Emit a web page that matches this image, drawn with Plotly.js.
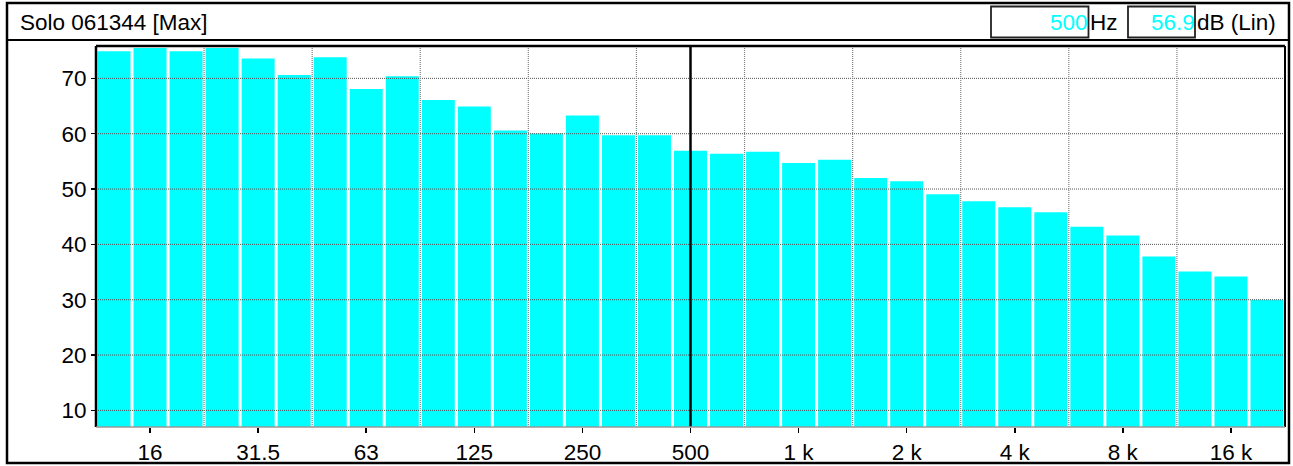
<!DOCTYPE html>
<html>
<head>
<meta charset="utf-8">
<script src="https://cdn.plot.ly/plotly-3.0.1.min.js"></script>
<style>
  html, body { margin: 0; padding: 0; background: #fff; }
  #chart { width: 1293px; height: 466px; }
</style>
</head>
<body>
<div id="chart"></div>
<script>
// ---- data ----
const bands = ["12.5","16","20","25","31.5","40","50","63","80","100","125","160","200","250","315","400","500","630","800",
  "1 k","1.25 k","1.6 k","2 k","2.5 k","3.15 k","4 k","5 k","6.3 k","8 k","10 k","12.5 k","16 k","20 k"];
const levels = [74.9,75.5,74.9,75.5,73.6,70.6,73.8,68.1,70.4,66.1,64.9,60.6,60.05,63.3,59.7,59.7,56.9,56.4,56.75,
  54.7,55.3,52.0,51.4,49.05,47.8,46.7,45.8,43.2,41.6,37.8,35.1,34.2,30.0];
const xTickVals = ["16","31.5","63","125","250","500","1 k","2 k","4 k","8 k","16 k"];
const yTickVals = [10,20,30,40,50,60,70];
const titleText = "Solo 061344 [Max]";
const cursorBand = "500";
const freqUnit = "Hz";
const levelUnit = "dB (Lin)";

// ---- geometry helpers (pixel -> paper) ----
const W = 1293, H = 466, L = 96, R = 1285, T = 46, B = 427;
const px = x => (x - L) / (R - L);
const py = y => (B - y) / (B - T);
const FONT = "Liberation Sans, Arial, sans-serif";
const FS = 22.5;

const cursorIdx = bands.indexOf(cursorBand);
const cursorLevel = levels[cursorIdx];

const shapes = [];
// horizontal grid (above bars)
yTickVals.forEach(v => shapes.push({type:"line", xref:"paper", yref:"y", x0:0, x1:1, y0:v, y1:v,
  layer:"above", line:{color:"#555", width:1, dash:"1px,1px"}}));
// vertical grid between labelled bands
xTickVals.slice(0, -1).forEach(t => {
  const xi = bands.indexOf(t) + 1.5;
  shapes.push({type:"line", xref:"x", yref:"paper", x0:xi, x1:xi, y0:0, y1:1,
    layer:"above", line:{color:"#808080", width:1.2, dash:"1px,1px"}});
});
// cursor line
shapes.push({type:"line", xref:"x", yref:"paper", x0:cursorIdx, x1:cursorIdx, y0:0, y1:1,
  layer:"above", line:{color:"#000", width:2.5}});
// plot box
shapes.push({type:"line", xref:"paper", yref:"paper", x0:0, x1:1, y0:1, y1:1, layer:"above", line:{color:"#000", width:2.5}});
shapes.push({type:"line", xref:"paper", yref:"paper", x0:0, x1:0, y0:0, y1:1, layer:"above", line:{color:"#000", width:2.5}});
shapes.push({type:"line", xref:"paper", yref:"paper", x0:1, x1:1, y0:0, y1:1, layer:"above", line:{color:"#000", width:2}});
shapes.push({type:"line", xref:"paper", yref:"paper", x0:0, x1:1, y0:0, y1:0, layer:"above", line:{color:"#999", width:1.5}});
// outer frame
shapes.push({type:"rect", xref:"paper", yref:"paper", x0:px(7), x1:px(1289), y0:py(3), y1:py(463),
  layer:"above", line:{color:"#000", width:2.5}});
// header separator
shapes.push({type:"line", xref:"paper", yref:"paper", x0:px(7), x1:px(1289), y0:py(40), y1:py(40),
  layer:"above", line:{color:"#000", width:2}});
// header value boxes
shapes.push({type:"rect", xref:"paper", yref:"paper", x0:px(991), x1:px(1088.5), y0:py(6.5), y1:py(37.5),
  layer:"above", line:{color:"#222", width:1.8}});
shapes.push({type:"rect", xref:"paper", yref:"paper", x0:px(1128), x1:px(1195), y0:py(6.5), y1:py(37.5),
  layer:"above", line:{color:"#222", width:1.8}});

const hy = py(22.5);
const annotations = [
  {text: titleText, xref:"paper", yref:"paper", x:px(19), y:hy, xanchor:"left", yanchor:"middle",
   showarrow:false, borderpad:0, font:{family:FONT, size:FS, color:"#000"}},
  {text: cursorBand, xref:"paper", yref:"paper", x:px(1089), y:hy, xanchor:"right", yanchor:"middle",
   showarrow:false, borderpad:0, font:{family:FONT, size:FS, color:"#00FFFF"}},
  {text: freqUnit, xref:"paper", yref:"paper", x:px(1089), y:hy, xanchor:"left", yanchor:"middle",
   showarrow:false, borderpad:0, font:{family:FONT, size:FS, color:"#000"}},
  {text: cursorLevel.toFixed(1), xref:"paper", yref:"paper", x:px(1196), y:hy, xanchor:"right", yanchor:"middle",
   showarrow:false, borderpad:0, font:{family:FONT, size:FS, color:"#00FFFF"}},
  {text: levelUnit, xref:"paper", yref:"paper", x:px(1196), y:hy, xanchor:"left", yanchor:"middle",
   showarrow:false, borderpad:0, font:{family:FONT, size:FS, color:"#000"}}
];

const trace = {
  type: "bar",
  x: bands,
  y: levels,
  marker: {color: "#00FFFF", line: {width: 0}},
  hoverinfo: "x+y"
};

const layout = {
  width: W, height: H,
  margin: {l: L, r: W - R, t: T, b: H - B, pad: 0},
  paper_bgcolor: "#fff",
  plot_bgcolor: "#fff",
  showlegend: false,
  bargap: 0.085,
  font: {family: FONT, size: FS, color: "#000"},
  xaxis: {
    type: "category",
    range: [-0.5, bands.length - 0.5],
    tickmode: "array",
    tickvals: xTickVals,
    ticktext: xTickVals,
    ticks: "outside", ticklen: 5, tickwidth: 1.5, tickcolor: "#000",
    showgrid: false, zeroline: false, showline: false,
    tickfont: {family: FONT, size: FS, color: "#000"},
    fixedrange: true
  },
  yaxis: {
    range: [7.0, 75.85],
    tickmode: "array",
    tickvals: yTickVals,
    ticks: "outside", ticklen: 4, tickwidth: 1.5, tickcolor: "#000",
    showgrid: false, zeroline: false, showline: false,
    tickfont: {family: FONT, size: FS, color: "#000"},
    fixedrange: true
  },
  shapes: shapes,
  annotations: annotations
};

Plotly.newPlot("chart", [trace], layout, {displayModeBar: false, staticPlot: true});
</script>
</body>
</html>
